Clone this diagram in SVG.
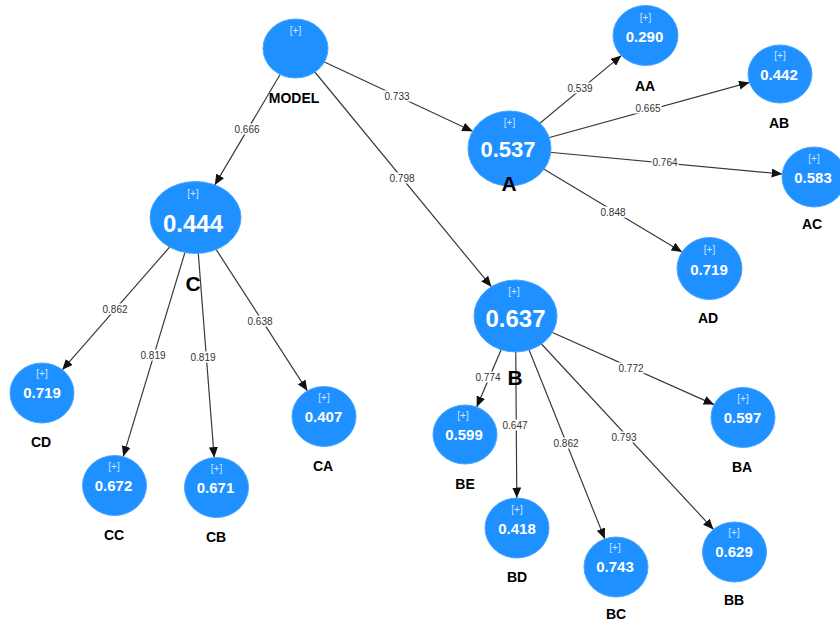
<svg xmlns="http://www.w3.org/2000/svg" width="840" height="623" viewBox="0 0 840 623">
<defs>
<marker id="arr" markerUnits="userSpaceOnUse" markerWidth="11" markerHeight="9" refX="10.5" refY="4.5" orient="auto">
<path d="M0,0 L10.5,4.5 L0,9 z" fill="#111"/>
</marker>
<style>
.e{stroke:#3a3a3a;stroke-width:1.2;fill:none;marker-end:url(#arr)}
.lb{fill:#fff}
.lt{font-family:"Liberation Sans",Arial,sans-serif;font-size:10px;fill:#333;text-anchor:middle}
.n{fill:#1E90FF;stroke:#4aa6ff;stroke-width:1}
.p{font-family:"Liberation Sans",Arial,sans-serif;font-size:10px;fill:#cfe6ff;text-anchor:middle}
.v{font-family:"Liberation Sans",Arial,sans-serif;font-weight:bold;font-size:15px;fill:#fff;text-anchor:middle}
.vb{font-family:"Liberation Sans",Arial,sans-serif;font-weight:bold;fill:#fff;text-anchor:middle}
.nl{font-family:"Liberation Sans",Arial,sans-serif;font-weight:bold;font-size:14px;fill:#000;text-anchor:middle}
.bl{font-family:"Liberation Sans",Arial,sans-serif;font-weight:bold;font-size:21px;fill:#000;text-anchor:middle}
</style>
</defs>
<rect width="840" height="623" fill="#fff"/>
<g id="edges">
<line class="e" x1="295.5" y1="48.5" x2="472.6" y2="131.3"/>
<line class="e" x1="295.5" y1="48.5" x2="214.8" y2="184.9"/>
<line class="e" x1="295.5" y1="48.5" x2="491.4" y2="286.7"/>
<line class="e" x1="509.5" y1="148.5" x2="621.3" y2="55.6"/>
<line class="e" x1="509.5" y1="148.5" x2="749.4" y2="82.4"/>
<line class="e" x1="509.5" y1="148.5" x2="782.2" y2="174.0"/>
<line class="e" x1="509.5" y1="148.5" x2="682" y2="252"/>
<line class="e" x1="195.5" y1="217.5" x2="62.3" y2="369.8"/>
<line class="e" x1="195.5" y1="217.5" x2="123.2" y2="456.6"/>
<line class="e" x1="195.5" y1="217.5" x2="214.2" y2="457.6"/>
<line class="e" x1="195.5" y1="217.5" x2="307.4" y2="390.8"/>
<line class="e" x1="515.5" y1="316" x2="476.7" y2="407"/>
<line class="e" x1="515.5" y1="316" x2="516.8" y2="498"/>
<line class="e" x1="515.5" y1="316" x2="604.8" y2="538.9"/>
<line class="e" x1="515.5" y1="316" x2="713.5" y2="529.4"/>
<line class="e" x1="515.5" y1="316" x2="714.1" y2="404.6"/>
<g>
<rect class="lb" x="383.5" y="90.5" width="27" height="11"/><text class="lt" x="397" y="99.5">0.733</text>
<rect class="lb" x="233.5" y="123.5" width="27" height="11"/><text class="lt" x="247" y="132.5">0.666</text>
<rect class="lb" x="388.5" y="172.5" width="27" height="11"/><text class="lt" x="402" y="181.5">0.798</text>
<rect class="lb" x="566.5" y="82.5" width="27" height="11"/><text class="lt" x="580" y="91.5">0.539</text>
<rect class="lb" x="634.5" y="102.5" width="27" height="11"/><text class="lt" x="648" y="111.5">0.665</text>
<rect class="lb" x="651.5" y="156.5" width="27" height="11"/><text class="lt" x="665" y="165.5">0.764</text>
<rect class="lb" x="599.5" y="206.5" width="27" height="11"/><text class="lt" x="613" y="215.5">0.848</text>
<rect class="lb" x="101.5" y="303.5" width="27" height="11"/><text class="lt" x="115" y="312.5">0.862</text>
<rect class="lb" x="139.5" y="349.5" width="27" height="11"/><text class="lt" x="153" y="358.5">0.819</text>
<rect class="lb" x="189.5" y="351.5" width="27" height="11"/><text class="lt" x="203" y="360.5">0.819</text>
<rect class="lb" x="246.5" y="315.5" width="27" height="11"/><text class="lt" x="260" y="324.5">0.638</text>
<rect class="lb" x="474.5" y="371.5" width="27" height="11"/><text class="lt" x="488" y="380.5">0.774</text>
<rect class="lb" x="501.5" y="419.5" width="27" height="11"/><text class="lt" x="515" y="428.5">0.647</text>
<rect class="lb" x="552.5" y="437.5" width="27" height="11"/><text class="lt" x="566" y="446.5">0.862</text>
<rect class="lb" x="610.5" y="431.5" width="27" height="11"/><text class="lt" x="624" y="440.5">0.793</text>
<rect class="lb" x="617.5" y="362.5" width="27" height="11"/><text class="lt" x="631" y="371.5">0.772</text>
</g>
</g>
<g id="node-MODEL">
<ellipse class="n" cx="295.5" cy="48.5" rx="32.5" ry="29.5"/>
<text class="p" x="295.5" y="34">[+]</text>
<text class="nl" x="294" y="103">MODEL</text>
</g>
<g id="node-A">
<ellipse class="n" cx="509.5" cy="148.5" rx="41.5" ry="37.5"/>
<text class="p" x="509.5" y="126">[+]</text>
<text class="vb" x="508" y="157" font-size="22">0.537</text>
<text class="bl" x="509" y="191">A</text>
</g>
<g id="node-C">
<ellipse class="n" cx="195.5" cy="217.5" rx="45.5" ry="36"/>
<text class="p" x="193" y="197">[+]</text>
<text class="vb" x="193" y="232" font-size="24">0.444</text>
<text class="bl" x="193" y="291">C</text>
</g>
<g id="node-B">
<ellipse class="n" cx="515.5" cy="316" rx="41.5" ry="36"/>
<text class="p" x="514" y="295">[+]</text>
<text class="vb" x="515.5" y="327" font-size="24">0.637</text>
<text class="bl" x="515" y="385">B</text>
</g>
<g id="node-AA">
<ellipse class="n" cx="645.5" cy="35.5" rx="32.5" ry="30"/>
<text class="p" x="645.5" y="21">[+]</text>
<text class="v" x="644.5" y="42">0.290</text>
<text class="nl" x="645" y="91">AA</text>
</g>
<g id="node-AB">
<ellipse class="n" cx="780" cy="74" rx="32" ry="29"/>
<text class="p" x="780" y="59">[+]</text>
<text class="v" x="779" y="80">0.442</text>
<text class="nl" x="779" y="128">AB</text>
</g>
<g id="node-AC">
<ellipse class="n" cx="814" cy="177" rx="32" ry="30"/>
<text class="p" x="814" y="162">[+]</text>
<text class="v" x="813" y="183">0.583</text>
<text class="nl" x="812" y="229">AC</text>
</g>
<g id="node-AD">
<ellipse class="n" cx="709.5" cy="268.5" rx="32.5" ry="31"/>
<text class="p" x="709.5" y="253">[+]</text>
<text class="v" x="709" y="275">0.719</text>
<text class="nl" x="708" y="323">AD</text>
</g>
<g id="node-CD">
<ellipse class="n" cx="42" cy="393" rx="32" ry="30"/>
<text class="p" x="42" y="377">[+]</text>
<text class="v" x="42" y="398">0.719</text>
<text class="nl" x="41" y="447">CD</text>
</g>
<g id="node-CC">
<ellipse class="n" cx="114.5" cy="485.5" rx="32" ry="30"/>
<text class="p" x="114" y="470">[+]</text>
<text class="v" x="113.5" y="491">0.672</text>
<text class="nl" x="114" y="540">CC</text>
</g>
<g id="node-CB">
<ellipse class="n" cx="216.5" cy="487.5" rx="32" ry="30"/>
<text class="p" x="216.5" y="472">[+]</text>
<text class="v" x="215.5" y="493">0.671</text>
<text class="nl" x="216" y="542">CB</text>
</g>
<g id="node-CA">
<ellipse class="n" cx="324" cy="416.5" rx="32" ry="30"/>
<text class="p" x="324" y="401">[+]</text>
<text class="v" x="323.5" y="422">0.407</text>
<text class="nl" x="323" y="471">CA</text>
</g>
<g id="node-BE">
<ellipse class="n" cx="465" cy="434.5" rx="32" ry="29.5"/>
<text class="p" x="463" y="419">[+]</text>
<text class="v" x="464" y="440">0.599</text>
<text class="nl" x="465" y="489">BE</text>
</g>
<g id="node-BD">
<ellipse class="n" cx="517" cy="528" rx="32" ry="30"/>
<text class="p" x="517" y="513">[+]</text>
<text class="v" x="517" y="534">0.418</text>
<text class="nl" x="517" y="582">BD</text>
</g>
<g id="node-BC">
<ellipse class="n" cx="616" cy="567" rx="32" ry="30"/>
<text class="p" x="615" y="551">[+]</text>
<text class="v" x="615" y="572">0.743</text>
<text class="nl" x="616" y="619">BC</text>
</g>
<g id="node-BB">
<ellipse class="n" cx="734.5" cy="552" rx="32" ry="30"/>
<text class="p" x="734" y="536">[+]</text>
<text class="v" x="734" y="557">0.629</text>
<text class="nl" x="734" y="605">BB</text>
</g>
<g id="node-BA">
<ellipse class="n" cx="743" cy="417.5" rx="32" ry="30"/>
<text class="p" x="743" y="402">[+]</text>
<text class="v" x="742.5" y="423">0.597</text>
<text class="nl" x="742" y="472">BA</text>
</g>
</svg>
